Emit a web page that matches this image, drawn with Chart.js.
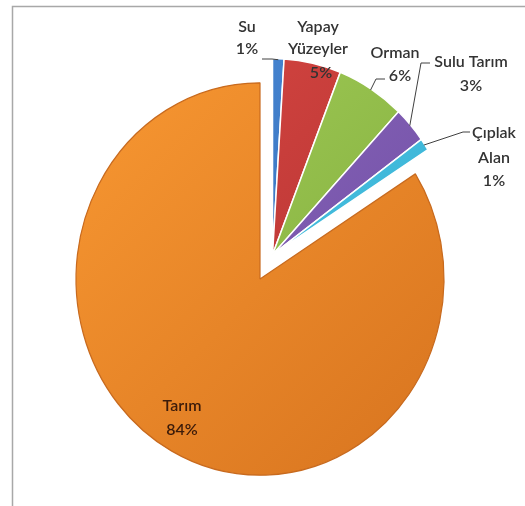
<!DOCTYPE html>
<html>
<head>
<meta charset="utf-8">
<script src="https://cdn.jsdelivr.net/npm/chart.js@4/dist/chart.umd.min.js"></script>
<style>
  html, body { margin: 0; padding: 0; background: #ffffff; }
  #wrap { width: 525px; height: 506px; position: relative; }
</style>
</head>
<body>
<div id="wrap"><canvas id="c" width="525" height="506"></canvas></div>
<script>
// ---- data ----
const categories = ['Su', 'Yapay Yüzeyler', 'Orman', 'Sulu Tarım', 'Çıplak Alan', 'Tarım'];
const nameLines = [['Su'], ['Yapay', 'Yüzeyler'], ['Orman'], ['Sulu Tarım'], ['Çıplak', 'Alan'], ['Tarım']];
const shares = [1, 5, 6, 3, 1, 84];
const explodedIdx = [0, 1, 2, 3, 4];

// ---- style ----
const colorsTop = ['#4b8ddb', '#db4a44', '#a6d05a', '#9270c2', '#5ad3f0', '#fa9a33'];
const colorsBot = ['#2c60a8', '#a82a2c', '#78a436', '#64419a', '#28a0c6', '#d4701d'];
const borderCols = ['#ffffff', '#ffffff', '#ffffff', '#ffffff', '#ffffff', '#c86a1e'];
const labelPos = [
  [[247, 27], [247, 49]],
  [[318, 27], [318, 49], [321, 73]],
  [[395, 53], [400, 76]],
  [[471, 62], [471, 86]],
  [[494, 133], [494, 158], [494, 181]],
  [[182, 406], [182, 430]]
];
const leaderElbows = [
  [[262, 59], [272, 59]],
  null,
  [[385, 79], [376, 79]],
  [[430, 63], [421, 63]],
  [[470, 132], [463, 132]],
  null
];
const labelColors = ['#333333', '#333333', '#333333', '#333333', '#333333', '#3b1b0a'];
const explodeDist = 26;
const yStretch = 1.066;

const framePlugin = {
  id: 'frame',
  beforeDraw(chart) {
    const ctx = chart.ctx;
    ctx.save();
    ctx.fillStyle = '#ffffff';
    ctx.fillRect(0, 0, chart.width, chart.height);
    ctx.strokeStyle = '#a8a8a8';
    ctx.lineWidth = 1.5;
    ctx.strokeRect(12.5, 6.5, 700, 700);
    ctx.restore();
  }
};

const explodePlugin = {
  id: 'explodeGroup',
  afterUpdate(chart) {
    const meta = chart.getDatasetMeta(0);
    const total = shares.reduce((a, b) => a + b, 0);
    let s = 0;
    explodedIdx.forEach(i => s += shares[i]);
    const mid = (s / 2) / total * 2 * Math.PI;
    const dx = Math.sin(mid) * explodeDist;
    const dy = -Math.cos(mid) * explodeDist;
    explodedIdx.forEach(i => {
      const el = meta.data[i];
      el.x += dx; el.y += dy;
    });
  },
  beforeDatasetsDraw(chart) {
    const meta = chart.getDatasetMeta(0);
    const c = meta.data[5];
    const ctx = chart.ctx;
    ctx.save();
    ctx.translate(c.x, c.y);
    ctx.scale(1, yStretch);
    ctx.translate(-c.x, -c.y);
  },
  afterDatasetsDraw(chart) {
    chart.ctx.restore();
  }
};

const labelPlugin = {
  id: 'sliceLabels',
  afterDraw(chart) {
    const meta = chart.getDatasetMeta(0);
    const cy0 = meta.data[5].y;
    const ctx = chart.ctx;
    ctx.save();
    ctx.font = '600 16px Lato';
    ctx.textAlign = 'center';
    ctx.textBaseline = 'middle';
    meta.data.forEach((el, i) => {
      const lines = nameLines[i].concat([shares[i] + '%']);
      ctx.fillStyle = labelColors[i];
      lines.forEach((t, k) => {
        const p = labelPos[i][k];
        ctx.fillText(t, p[0], p[1]);
      });
      const elb = leaderElbows[i];
      if (elb) {
        const a = (el.startAngle + el.endAngle) / 2;
        const r = el.outerRadius - 1;
        const ex = el.x + Math.cos(a) * r;
        const ey = cy0 + (el.y + Math.sin(a) * r - cy0) * yStretch;
        ctx.strokeStyle = '#404040';
        ctx.lineWidth = 1;
        ctx.beginPath();
        ctx.moveTo(elb[0][0], elb[0][1]);
        for (let k = 1; k < elb.length; k++) ctx.lineTo(elb[k][0], elb[k][1]);
        ctx.lineTo(ex, ey);
        ctx.stroke();
      }
    });
    ctx.restore();
  }
};

function grad(context) {
  const i = context.dataIndex;
  const chart = context.chart;
  const area = chart.chartArea;
  if (!area) return colorsTop[i];
  const g = chart.ctx.createLinearGradient(area.left + 60, area.top, area.right - 40, area.bottom);
  g.addColorStop(0, colorsTop[i]);
  g.addColorStop(1, colorsBot[i]);
  return g;
}

new Chart(document.getElementById('c'), {
  type: 'pie',
  data: {
    labels: categories,
    datasets: [{
      data: shares,
      backgroundColor: grad,
      borderColor: borderCols,
      borderWidth: [1.5, 1.5, 1.5, 1.5, 1.5, 1.2],
      radius: 184
    }]
  },
  options: {
    responsive: false,
    animation: false,
    layout: { padding: { left: 0, right: 5, top: 52, bottom: 0 } },
    plugins: {
      legend: { display: false },
      tooltip: { enabled: false }
    }
  },
  plugins: [framePlugin, explodePlugin, labelPlugin]
});
</script>
</body>
</html>
